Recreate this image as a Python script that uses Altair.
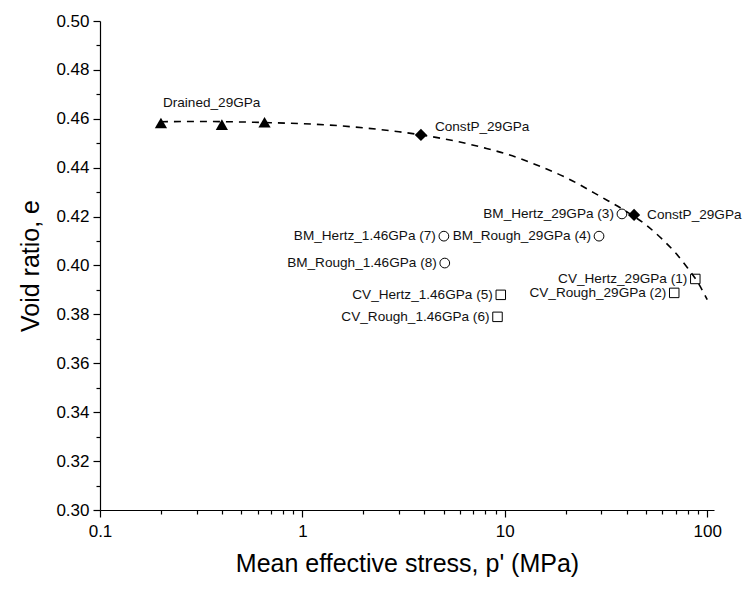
import altair as alt
import pandas as pd

# ---- data ----
drained_p = [0.2, 0.4, 0.65]
drained_e = [0.4583, 0.4576, 0.4586]

constp_p = [3.85, 43.5]
constp_e = [0.4534, 0.4207]

bm_labels = ["BM_Hertz_29GPa (3)", "BM_Rough_29GPa (4)", "BM_Hertz_1.46GPa (7)", "BM_Rough_1.46GPa (8)"]
bm_p = [37.9, 29.2, 5.0, 5.05]
bm_e = [0.4211, 0.4120, 0.4120, 0.4010]

cv_labels = ["CV_Hertz_29GPa (1)", "CV_Rough_29GPa (2)", "CV_Hertz_1.46GPa (5)", "CV_Rough_1.46GPa (6)"]
cv_p = [87.3, 68.7, 9.55, 9.2]
cv_e = [0.3945, 0.3888, 0.3880, 0.3790]

trend_p = [0.2, 0.3, 0.5, 0.7, 1, 1.5, 2, 3, 4, 6, 8, 10, 15, 20, 30, 40, 50, 60, 70, 80, 90, 100]
trend_e = [0.4588, 0.4589, 0.4587, 0.4584, 0.458, 0.4572, 0.4563, 0.4547, 0.4532, 0.4505, 0.448,
           0.4458, 0.4405, 0.436, 0.428, 0.422, 0.4165, 0.4107, 0.405, 0.399, 0.393, 0.386]

x_ticks = [0.1, 0.2, 0.3, 0.4, 0.5, 0.6, 0.7, 0.8, 0.9,
           1, 2, 3, 4, 5, 6, 7, 8, 9,
           10, 20, 30, 40, 50, 60, 70, 80, 90, 100]
y_ticks = [0.30, 0.31, 0.32, 0.33, 0.34, 0.35, 0.36, 0.37, 0.38, 0.39, 0.40,
           0.41, 0.42, 0.43, 0.44, 0.45, 0.46, 0.47, 0.48, 0.49, 0.50]

FONT = "Liberation Sans"

major_x = "abs(log(datum.value)/LN10 - round(log(datum.value)/LN10)) < 0.001"
major_y = "abs(datum.value*50 - round(datum.value*50)) < 0.001"

xscale = alt.Scale(type="log", domain=[0.1, 108], nice=False)
yscale = alt.Scale(domain=[0.30, 0.50], nice=False, zero=False)

xenc = alt.X(
    "p:Q", scale=xscale,
    axis=alt.Axis(
        title="Mean effective stress, p' (MPa)",
        values=x_ticks,
        labelExpr=f"({major_x}) ? format(datum.value, '~g') : ''",
        tickSize={"condition": {"test": major_x, "value": 7}, "value": 4},
        labelOverlap=False, labelFlush=False, grid=False,
        labelFontSize=17, titleFontSize=25, labelPadding=6, titlePadding=12,
    ),
)
yenc = alt.Y(
    "e:Q", scale=yscale,
    axis=alt.Axis(
        title="Void ratio, e",
        values=y_ticks,
        labelExpr=f"({major_y}) ? format(datum.value, '.2f') : ''",
        tickSize={"condition": {"test": major_y, "value": 7}, "value": 4},
        labelOverlap=False, labelFlush=False, grid=False,
        labelFontSize=17, titleFontSize=25, labelPadding=4, titlePadding=12,
    ),
)

trend_df = pd.DataFrame({"p": trend_p, "e": trend_e})
drained_df = pd.DataFrame({"p": drained_p, "e": drained_e})
constp_df = pd.DataFrame({"p": constp_p, "e": constp_e, "label": ["ConstP_29GPa"] * len(constp_p)})
bm_df = pd.DataFrame({"p": bm_p, "e": bm_e, "label": bm_labels})
cv_df = pd.DataFrame({"p": cv_p, "e": cv_e, "label": cv_labels})

line = alt.Chart(trend_df).mark_line(
    color="black", strokeDash=[7, 6], strokeWidth=1.6, interpolate="monotone"
).encode(x=xenc, y=yenc)

tri = alt.Chart(drained_df).mark_point(
    shape="triangle-up", filled=True, color="black", size=150, opacity=1
).encode(x=xenc, y=yenc)

dia = alt.Chart(constp_df).mark_point(
    shape="diamond", filled=True, color="black", size=150, opacity=1
).encode(x=xenc, y=yenc)

circ = alt.Chart(bm_df).mark_point(
    shape="circle", filled=False, color="black", size=95, strokeWidth=1, opacity=1
).encode(x=xenc, y=yenc)

sq = alt.Chart(cv_df).mark_point(
    shape="square", filled=False, color="black", size=90, strokeWidth=1, opacity=1
).encode(x=xenc, y=yenc)

txt_style = dict(font=FONT, fontSize=13.6, color="#111111", baseline="middle")

bm_txt = alt.Chart(bm_df).mark_text(align="right", dx=-8, **txt_style).encode(x=xenc, y=yenc, text="label:N")
cv_txt = alt.Chart(cv_df).mark_text(align="right", dx=-8, **txt_style).encode(x=xenc, y=yenc, text="label:N")
c1_txt = alt.Chart(constp_df.iloc[[0]]).mark_text(align="left", dx=14, dy=-8, **txt_style).encode(x=xenc, y=yenc, text="label:N")
c2_txt = alt.Chart(constp_df.iloc[[1]]).mark_text(align="left", dx=13, dy=0, **txt_style).encode(x=xenc, y=yenc, text="label:N")
d_txt = alt.Chart(drained_df.iloc[[0]].assign(label="Drained_29GPa")).mark_text(
    align="left", dx=2, dy=-20, **txt_style).encode(x=xenc, y=yenc, text="label:N")

chart = alt.layer(line, tri, dia, circ, sq, bm_txt, cv_txt, c1_txt, c2_txt, d_txt).properties(
    width=614, height=489,
    autosize=alt.AutoSizeParams(type="none"),
    padding={"left": 100, "top": 21, "right": 29, "bottom": 83},
).configure_view(stroke=None).configure_axis(
    domainColor="black", tickColor="black", labelColor="black", titleColor="black",
    labelFont=FONT, titleFont=FONT, titleFontWeight="normal", domainWidth=1.2, tickWidth=1.2,
)

chart.save("out.html", embed_options={"renderer": "svg", "actions": False})
